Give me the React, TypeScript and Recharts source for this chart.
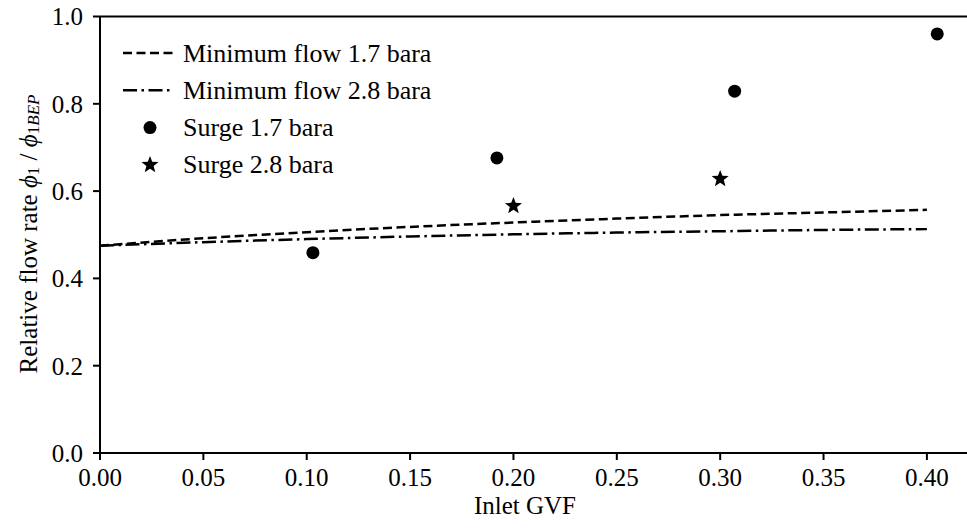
import {
  ComposedChart,
  Line,
  Scatter,
  XAxis,
  YAxis,
  ReferenceLine,
} from "recharts";

const gvfGrid = [0, 0.05, 0.1, 0.15, 0.2, 0.25, 0.3, 0.35, 0.4];
const minFlow17 = [0.475, 0.492, 0.506, 0.518, 0.528, 0.537, 0.545, 0.551, 0.557];
const minFlow28 = [0.475, 0.483, 0.49, 0.496, 0.501, 0.505, 0.508, 0.511, 0.513];

const surge17Gvf = [0.103, 0.192, 0.307, 0.405];
const surge17Flow = [0.459, 0.676, 0.829, 0.96];
const surge28Gvf = [0.2, 0.3];
const surge28Flow = [0.566, 0.628];

const xTicks = [0, 0.05, 0.1, 0.15, 0.2, 0.25, 0.3, 0.35, 0.4];
const yTicks = [0, 0.2, 0.4, 0.6, 0.8, 1.0];

const line17 = gvfGrid.map((x, i) => ({ x, y: minFlow17[i] }));
const line28 = gvfGrid.map((x, i) => ({ x, y: minFlow28[i] }));
const surge17 = surge17Gvf.map((x, i) => ({ x, y: surge17Flow[i] }));
const surge28 = surge28Gvf.map((x, i) => ({ x, y: surge28Flow[i] }));

const FONT = "'Liberation Serif', 'Times New Roman', serif";
const DASH = "9 4.5";
const DASH_DOT = "14 4.5 2.5 4.5";

function starPath(cx: number, cy: number, outer: number, inner: number) {
  let d = "";
  for (let i = 0; i < 10; i++) {
    const r = i % 2 === 0 ? outer : inner;
    const a = -Math.PI / 2 + (i * Math.PI) / 5;
    d += (i === 0 ? "M" : "L") + (cx + r * Math.cos(a)).toFixed(2) + "," + (cy + r * Math.sin(a)).toFixed(2);
  }
  return d + "Z";
}

const Dot = (p: any) => <circle cx={p.cx} cy={p.cy} r={6.5} fill="#000" />;
const Star = (p: any) => <path d={starPath(p.cx, p.cy, 9, 3.8)} fill="#000" />;

function YLabel() {
  return (
    <text
      x={28}
      y={234}
      transform="rotate(-90 28 234)"
      textAnchor="middle"
      dominantBaseline="central"
      fontFamily={FONT}
      fontSize={25}
      fill="#000"
    >
      Relative flow rate <tspan fontStyle="italic">ϕ</tspan>
      <tspan fontSize={17} dy={5}>1</tspan>
      <tspan dy={-5}> / </tspan>
      <tspan fontStyle="italic">ϕ</tspan>
      <tspan fontSize={17} dy={5}>1</tspan>
      <tspan fontSize={17} fontStyle="italic">BEP</tspan>
    </text>
  );
}

function XLabel() {
  return (
    <text x={525} y={514} textAnchor="middle" fontFamily={FONT} fontSize={25} fill="#000">
      Inlet GVF
    </text>
  );
}

function LegendBox() {
  const rows = [
    { label: "Minimum flow 1.7 bara", kind: "dash" },
    { label: "Minimum flow 2.8 bara", kind: "dashdot" },
    { label: "Surge 1.7 bara", kind: "dot" },
    { label: "Surge 2.8 bara", kind: "star" },
  ];
  return (
    <svg width={340} height={150} style={{ position: "absolute", left: 118, top: 33 }}>
      {rows.map((r, i) => {
        const y = 20 + i * 37.3;
        return (
          <g key={r.label}>
            {r.kind === "dash" && (
              <line x1={5} x2={55} y1={y} y2={y} stroke="#000" strokeWidth={2.5} strokeDasharray={DASH} />
            )}
            {r.kind === "dashdot" && (
              <line x1={5} x2={55} y1={y} y2={y} stroke="#000" strokeWidth={2.5} strokeDasharray={DASH_DOT} />
            )}
            {r.kind === "dot" && <circle cx={32} cy={y} r={6.5} fill="#000" />}
            {r.kind === "star" && <path d={starPath(32, y, 9, 3.8)} fill="#000" />}
            <text x={65} y={y} dominantBaseline="central" fontFamily={FONT} fontSize={26} fill="#000">
              {r.label}
            </text>
          </g>
        );
      })}
    </svg>
  );
}

export default function App() {
  return (
    <div style={{ position: "absolute", left: 0, top: 0, width: 967, height: 529, background: "#fff" }}>
      <ComposedChart width={967} height={529} margin={{ top: 16.5, right: 0, bottom: 0, left: 0 }}>
        <XAxis
          type="number"
          dataKey="x"
          domain={[0, 0.4194]}
          ticks={xTicks}
          tickFormatter={(v: number) => v.toFixed(2)}
          height={76}
          tickSize={7}
          tickMargin={8}
          stroke="#000"
          strokeWidth={2}
          tick={{ fill: "#000", fontSize: 25, fontFamily: FONT }}
          label={<XLabel />}
          allowDataOverflow
        />
        <YAxis
          type="number"
          dataKey="y"
          domain={[0, 1]}
          ticks={yTicks}
          tickFormatter={(v: number) => v.toFixed(1)}
          width={100}
          tickSize={7}
          tickMargin={10}
          stroke="#000"
          strokeWidth={2}
          tick={{ fill: "#000", fontSize: 25, fontFamily: FONT }}
          label={<YLabel />}
        />
        <ReferenceLine y={1} stroke="#000" strokeWidth={2} />
        <Line
          data={line17}
          dataKey="y"
          type="monotone"
          stroke="#000"
          strokeWidth={2.5}
          strokeDasharray={DASH}
          dot={false}
          activeDot={false}
          isAnimationActive={false}
        />
        <Line
          data={line28}
          dataKey="y"
          type="monotone"
          stroke="#000"
          strokeWidth={2.5}
          strokeDasharray={DASH_DOT}
          dot={false}
          activeDot={false}
          isAnimationActive={false}
        />
        <Scatter data={surge17} dataKey="y" shape={Dot} isAnimationActive={false} />
        <Scatter data={surge28} dataKey="y" shape={Star} isAnimationActive={false} />
      </ComposedChart>
      <LegendBox />
    </div>
  );
}
